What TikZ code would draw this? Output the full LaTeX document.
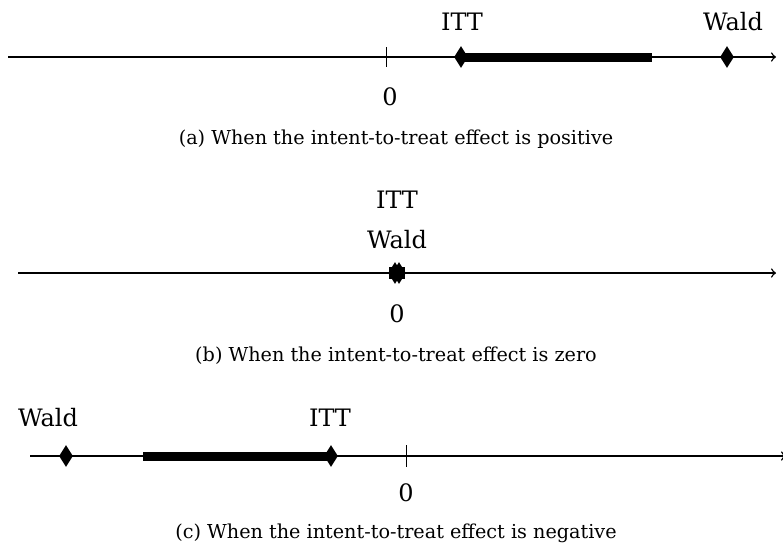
\documentclass[tikz,border=0pt]{standalone}
\usepackage{fontspec}
\setmainfont{DejaVu Serif}
\usetikzlibrary{shapes.geometric}
\tikzset{
  axis/.style={draw, line width=0.75pt, ->},
  tickmark/.style={draw, line width=0.5pt},
  ci/.style={draw, line width=4.5pt},
  est/.style={diamond, fill=black, draw=none, inner sep=0pt, minimum width=7pt, minimum height=11pt},
  lab/.style={font=\fontsize{12}{14}\selectfont, inner sep=0pt},
  captext/.style={font=\fontsize{9.6}{12}\selectfont, inner sep=0pt}
}
\begin{document}
\begin{tikzpicture}[x=0.5pt,y=-0.5pt]
\useasboundingbox (0,0) rectangle (783,548);
% ---------- (a)
\coordinate (aL) at (8,57);
\coordinate (aR) at (776,57);
\coordinate (aT1) at (386,47);
\coordinate (aT2) at (386,67);
\coordinate (aBarE) at (652,57);
\draw[axis] (aL) -- (aR);
\draw[tickmark] (aT1) -- (aT2);
\node[est] (aitt) at (461,57) {};
\node[est] (awald) at (727,57) {};
\draw[ci, line cap=butt] (aitt.center) -- (aBarE);
\node[lab] (aittl) at (462,22) {ITT};
\node[lab] (awaldl) at (733,22) {Wald};
\node[lab] (azero) at (390,97) {0};
\node[captext] (acap) at (396,139) {(a) When the intent-to-treat effect is positive};
% ---------- (b)
\coordinate (bL) at (18,273);
\coordinate (bR) at (776,273);
\draw[axis] (bL) -- (bR);
\node[est] (bitt) at (395,273) {};
\node[est] (bwald) at (399,273) {};
\draw[ci, line width=6pt] ([xshift=-3pt]bitt.center) -- ([xshift=3pt]bwald.center);
\node[lab] (bittl) at (397,200) {ITT};
\node[lab] (bwaldl) at (397,240) {Wald};
\node[lab] (bzero) at (397,314) {0};
\node[captext] (bcap) at (396,356) {(b) When the intent-to-treat effect is zero};
% ---------- (c)
\coordinate (cL) at (30,456);
\coordinate (cR) at (786,456);
\coordinate (cT1) at (406,445);
\coordinate (cT2) at (406,467);
\coordinate (cBarS) at (143,456);
\draw[axis] (cL) -- (cR);
\draw[tickmark] (cT1) -- (cT2);
\node[est] (cwald) at (66,456) {};
\node[est] (citt) at (331,456) {};
\draw[ci] (cBarS) -- (citt.center);
\node[lab] (cwaldl) at (48,418) {Wald};
\node[lab] (cittl) at (330,418) {ITT};
\node[lab] (czero) at (406,493) {0};
\node[captext] (ccap) at (396,533) {(c) When the intent-to-treat effect is negative};
\end{tikzpicture}
\end{document}
